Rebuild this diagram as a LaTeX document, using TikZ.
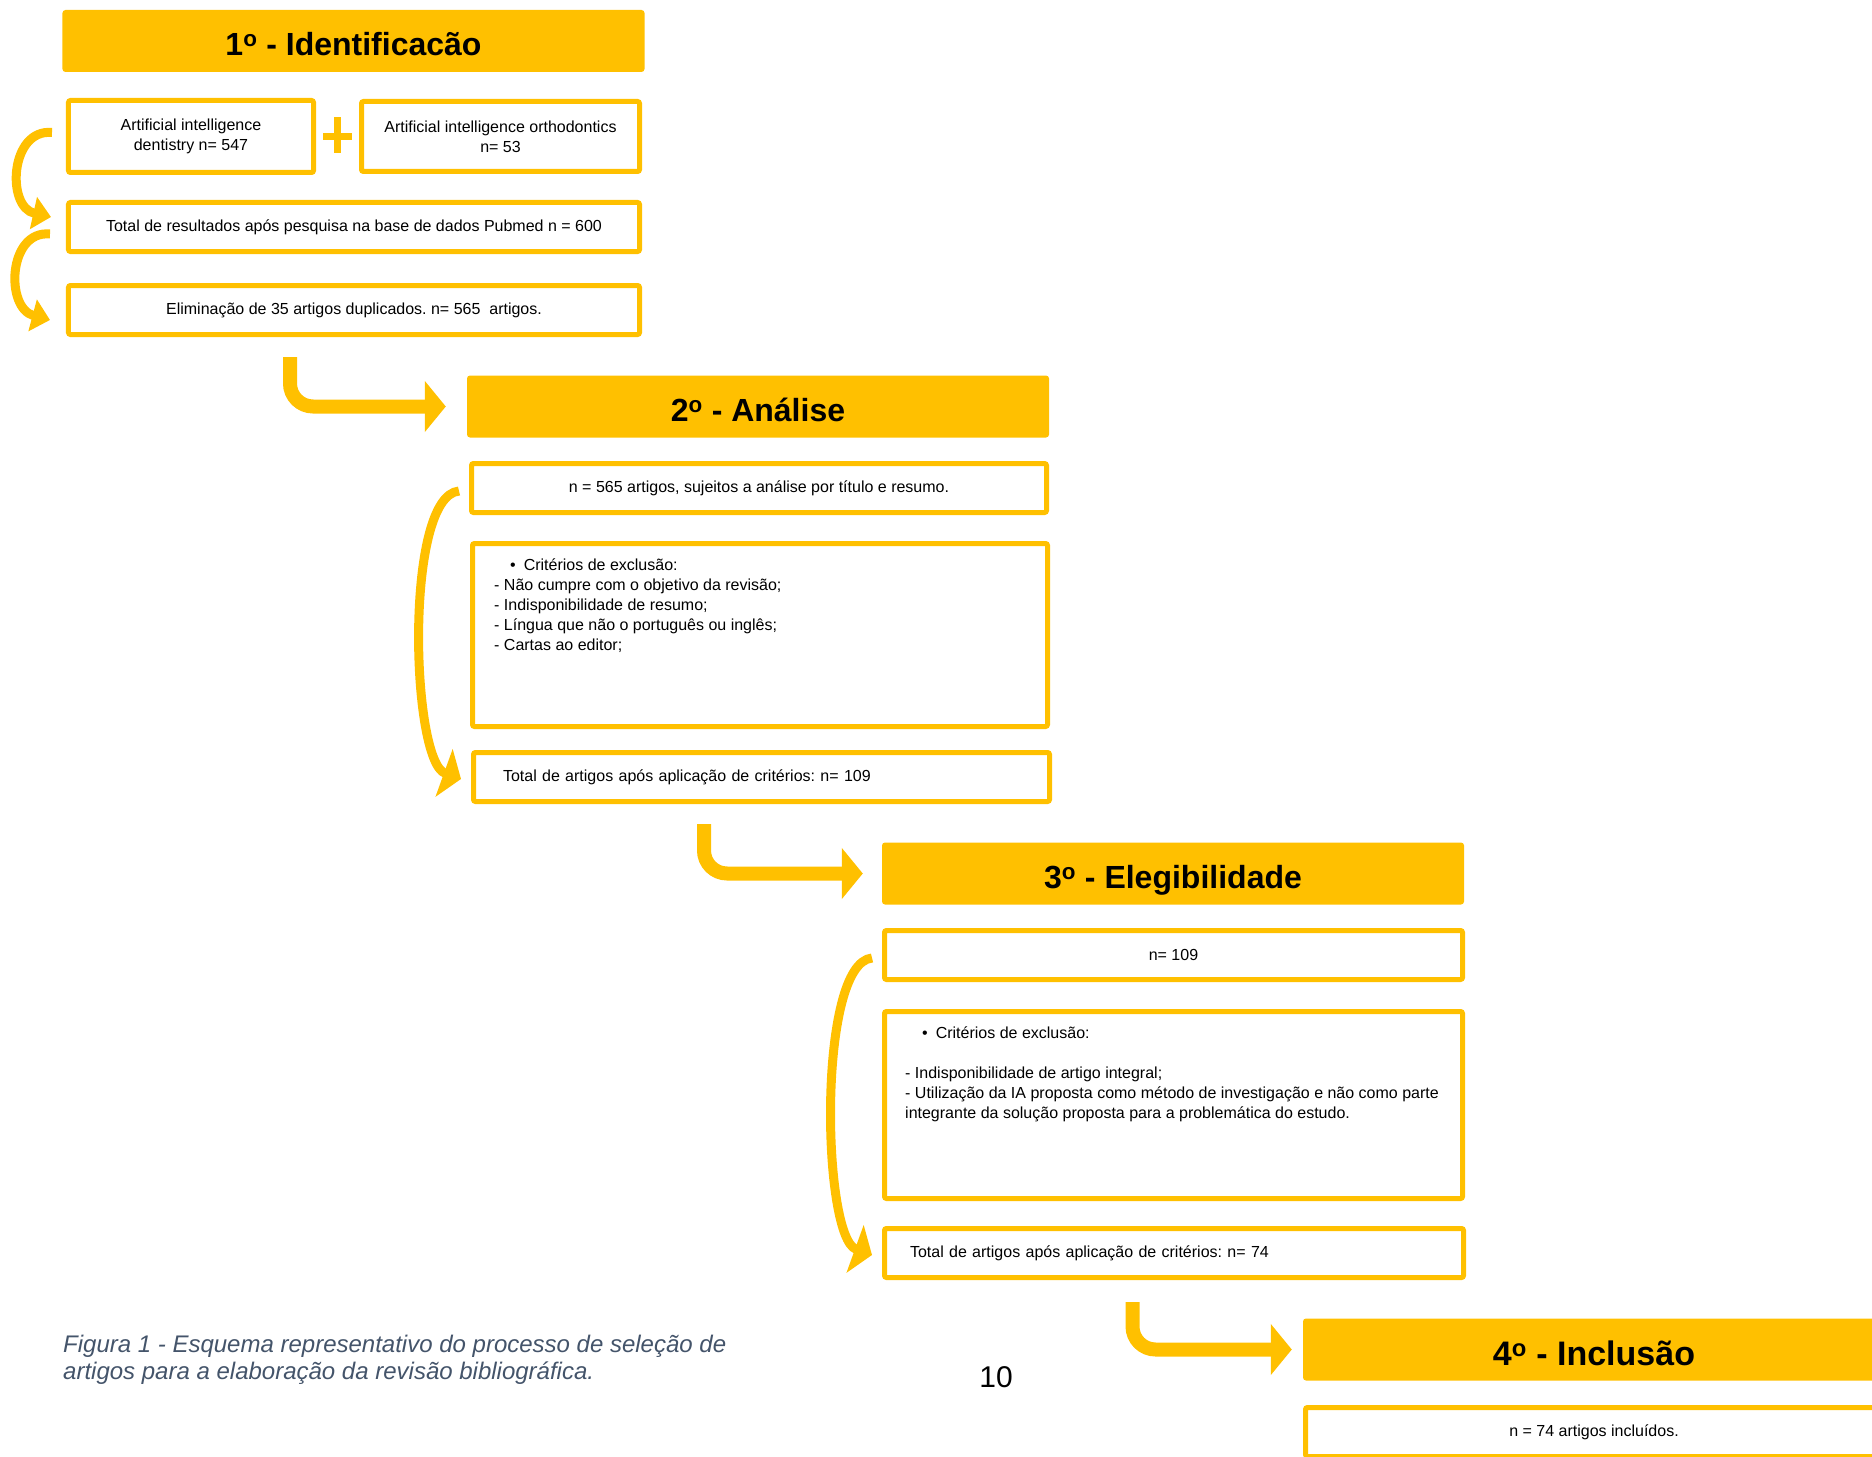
\documentclass[tikz,border=0pt]{standalone}
\usepackage{fontspec}
\setmainfont{Liberation Sans}
\usetikzlibrary{arrows.meta, positioning, calc}
\definecolor{prAmber}{RGB}{255,192,0}
\definecolor{prCaption}{RGB}{68,84,106}

\begin{document}
\frenchspacing
\begin{tikzpicture}[x=1bp,y=-1bp,
  txt/.style={font=\fontsize{16bp}{20bp}\selectfont},
  box/.style={draw=prAmber,line width=5bp,rounded corners=2bp,fill=white,
              inner sep=0pt,align=center,minimum height=49bp,txt},
  stage/.style={fill=prAmber,rounded corners=3pt,inner sep=0pt,
                minimum width=582bp,minimum height=62bp,
                text height=29bp,text depth=0bp,
                font=\fontsize{32bp}{38bp}\selectfont\bfseries},
  crittxt/.style={txt,anchor=north west,align=left,inner sep=0pt},
  curvearr/.style={draw=prAmber,line width=9bp,
                   -{Triangle[length=18bp,width=#1]}},
  curvearr/.default=50bp,
  bentarr/.style={draw=prAmber,line width=14bp,rounded corners=23bp,
                  -{Triangle[length=21bp,width=50bp]}}]
\useasboundingbox (0,0) rectangle (1872,1457);
\clip (0,0) rectangle (1872,1457);

% 1 - Identificacao
\node[stage] (title1) at (353.5,41) {1\textsuperscript{o} - Identificacão};
\node[box,minimum width=245bp,minimum height=72bp] (dent) at (191,136.5)
   {Artificial intelligence\\dentistry n= 547};
\node[box,minimum width=278bp,minimum height=70bp] (orto) at (500.5,136.5)
   {Artificial intelligence orthodontics\\n= 53};
\coordinate (plus) at ($(dent.east)!0.5!(orto.west)$);
\fill[prAmber] ($(plus)+(-15,-3.5)$) rectangle ($(plus)+(14,3.5)$);
\fill[prAmber] ($(plus)+(-4,-19)$) rectangle ($(plus)+(3,17)$);
\node[box,minimum width=571bp] (pubmed) at (354,227)
   {Total de resultados após pesquisa na base de dados Pubmed n = 600};
\node[box,minimum width=571bp] (dupl) at (354,310)
   {Eliminação de 35 artigos duplicados. n= 565~ artigos.};

% 2 - Analise
\node[stage] (title2) at (758,406.5) {2\textsuperscript{o} - Análise};
\node[box,minimum width=575bp] (sel) at (759,488)
   {n = 565 artigos, sujeitos a análise por título e resumo.};
\node[box,minimum width=575bp,minimum height=183bp] (crit2) at (760,635) {};
\node[crittxt] (crit2txt) at ($(crit2.north west)+(24,18)$)
   {\hspace*{16bp}•\hspace{8bp}Critérios de exclusão:\\
    - Não cumpre com o objetivo da revisão;\\
    - Indisponibilidade de resumo;\\
    - Língua que não o português ou inglês;\\
    - Cartas ao editor;};
\node[box,align=left,inner xsep=29.5bp,text width=517bp] (tot2) at (761.5,777)
   {Total de artigos após aplicação de critérios: n= 109};

% 3 - Elegibilidade
\node[stage] (title3) at (1173,873.5) {3\textsuperscript{o} - Elegibilidade};
\node[box,minimum width=578bp] (n109) at (1173.5,955) {n= 109};
\node[box,minimum width=578bp,minimum height=187bp] (crit3) at (1173.5,1105) {};
\node[crittxt] (crit3txt) at ($(crit3.north west)+(23,18)$)
   {\hspace*{17bp}•\hspace{8bp}Critérios de exclusão:\\[20bp]
    - Indisponibilidade de artigo integral;\\
    - Utilização da IA proposta como método de investigação e não como parte\\
    integrante da solução proposta para a problemática do estudo.};
\node[box,align=left,inner xsep=25.5bp,text width=528bp] (tot3) at (1174,1253)
   {Total de artigos após aplicação de critérios: n= 74};

% 4 - Inclusao
\node[stage,text height=31bp,font=\fontsize{34bp}{40bp}\selectfont\bfseries]
   (title4) at (1594,1349.5) {4\textsuperscript{o} - Inclusão};
\node[box,minimum width=577bp] (incl) at (1594,1432) {n = 74 artigos incluídos.};

% caption and page number
\node[anchor=north west,align=left,inner sep=0pt,text=prCaption,
      font=\fontsize{24bp}{27.6bp}\selectfont\itshape] (caption) at (63,1334.5)
   {Figura 1 - Esquema representativo do processo de seleção de\\
    artigos para a elaboração da revisão bibliográfica.};
\node[font=\fontsize{30bp}{36bp}\selectfont,inner sep=0pt] (pagenum) at (996,1377) {10};

% curved arrows
\draw[curvearr=32bp] ($(dent.west)+(-14,-4)$) .. controls +(-42,-4) and +(-45,-10) .. ($(pubmed.west)+(-15,-10)$);
\draw[curvearr=32bp] ($(pubmed.west)+(-16,7)$) .. controls +(-42,-4) and +(-45,-12) .. ($(dupl.west)+(-16,10)$);
\draw[curvearr] ($(sel.west)+(-10,3)$) .. controls +(-55,5) and +(-50,-18) .. ($(tot2.west)+(-10,2)$);
\draw[curvearr] ($(n109.west)+(-10,3)$) .. controls +(-55,5) and +(-50,-18) .. ($(tot3.west)+(-10,2)$);

% bent arrows
\draw[bentarr] ($(dupl.south west)+(224,20)$) |- ($(title2.west)+(-21,0)$);
\draw[bentarr] ($(tot2.south west)+(233,20)$) |- ($(title3.west)+(-19,0)$);
\draw[bentarr] ($(tot3.south west)+(250.5,22)$) |- ($(title4.west)+(-11,0)$);
\end{tikzpicture}
\end{document}
